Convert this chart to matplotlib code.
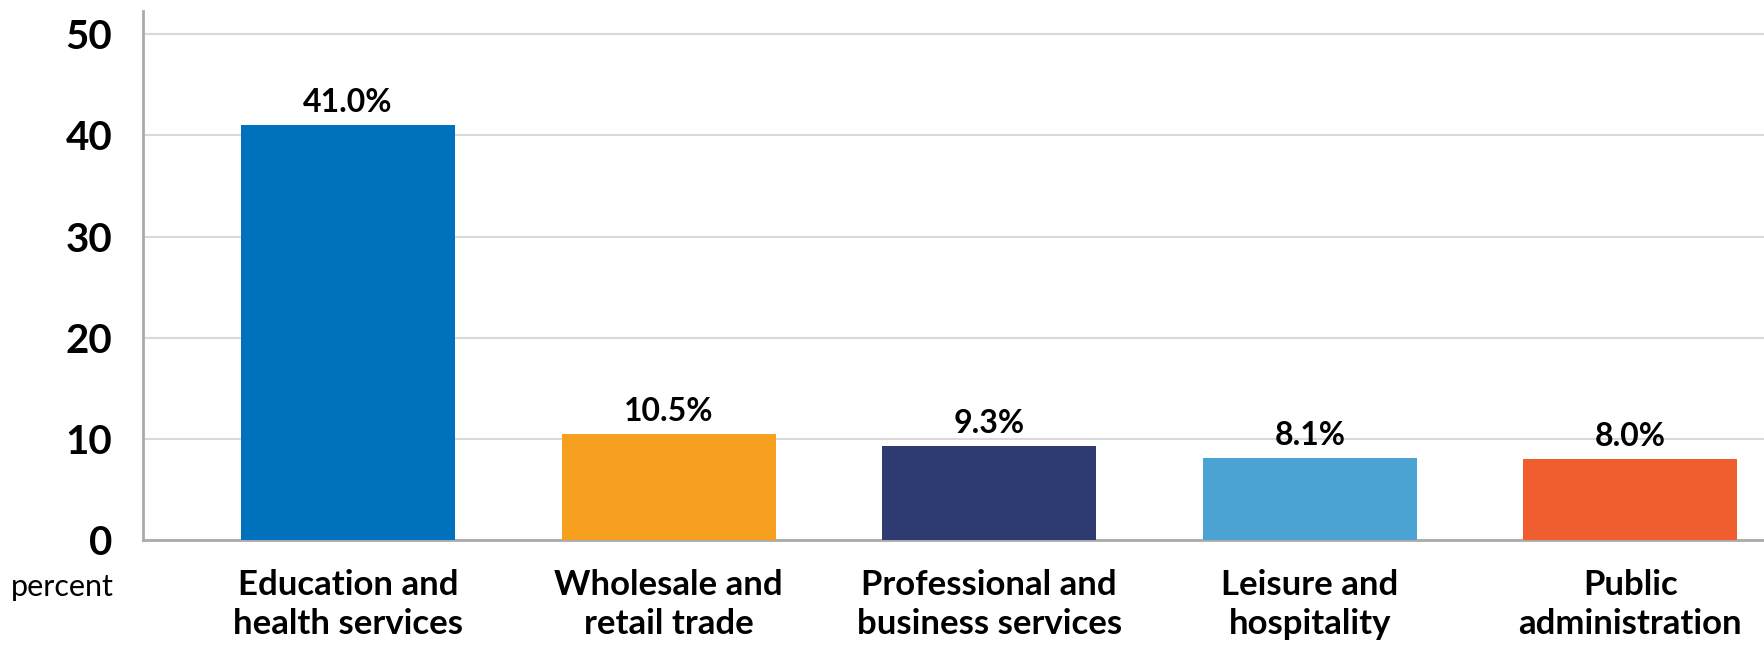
import matplotlib
matplotlib.use("Agg")
import matplotlib.pyplot as plt

# data
categories = ["Education and\nhealth services", "Wholesale and\nretail trade",
              "Professional and\nbusiness services", "Leisure and\nhospitality",
              "Public\nadministration"]
values = [41.0, 10.5, 9.3, 8.1, 8.0]
colors = ["#0071BC", "#F7A01F", "#2E3A72", "#4BA3D3", "#F05D2F"]
yticks = [0, 10, 20, 30, 40, 50]

plt.rcParams["font.family"] = ["Lato", "DejaVu Sans"]

fig = plt.figure(figsize=(17.65, 6.47), dpi=100)
ax = fig.add_axes([0.081, 0.165, 0.919, 0.818])

x = range(len(values))
bars = ax.bar(x, values, width=0.667, color=colors, zorder=3)
for b, v in zip(bars, values):
    ax.annotate(f"{v:.1f}%", (b.get_x() + b.get_width() / 2, v),
                xytext=(0, 6), textcoords="offset points",
                ha="center", va="bottom", fontsize=23, fontweight="bold")

ax.set_xlim(-0.64, 4.42)
ax.set_ylim(0, 52.3)
ax.set_yticks(yticks)
ax.set_yticklabels([str(t) for t in yticks], fontsize=29, fontweight="bold")
ax.set_xticks(list(x))
ax.set_xticklabels(categories, fontsize=25, fontweight="bold", linespacing=1.25)
ax.tick_params(axis="both", length=0)
ax.tick_params(axis="y", pad=22)
ax.tick_params(axis="x", pad=21)

ax.grid(axis="y", color="#d9d9d9", linewidth=1.5, zorder=0)
for s in ["top", "right"]:
    ax.spines[s].set_visible(False)
ax.spines["left"].set_color("#aaaaaa")
ax.spines["left"].set_linewidth(2)
ax.spines["bottom"].set_color("#aaaaaa")
ax.spines["bottom"].set_linewidth(2)

fig.text(0.006, 0.092, "percent", fontsize=22, ha="left", va="center")

fig.savefig("out.png", dpi=100)
